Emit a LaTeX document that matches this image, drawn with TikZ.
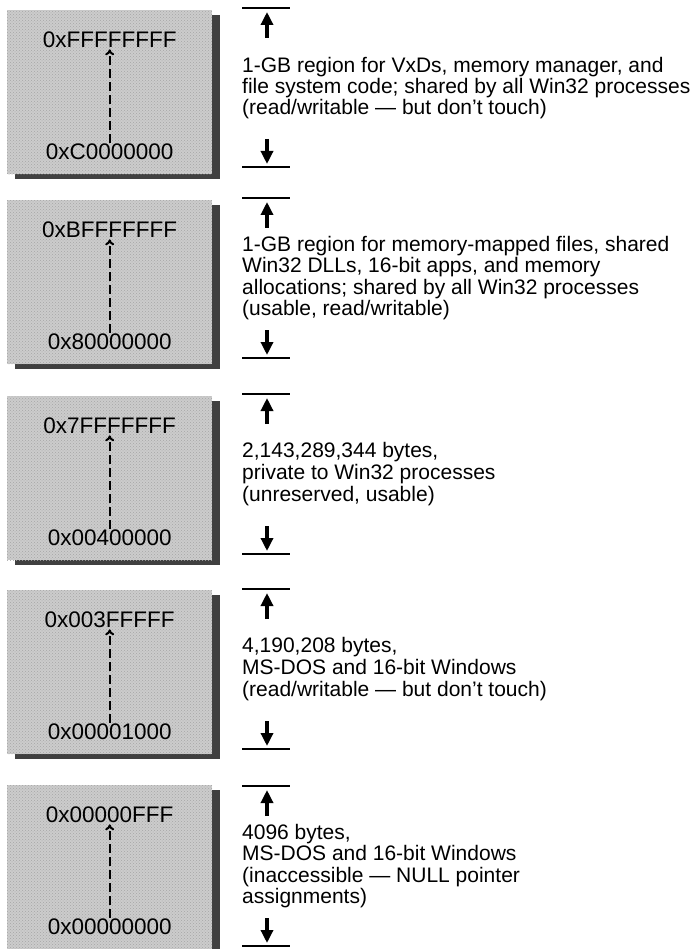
\documentclass[tikz,border=0pt]{standalone}
\usepackage{fontspec}
\setmainfont{Liberation Sans}
\usetikzlibrary{arrows.meta,positioning,shadows,patterns}

\tikzset{
  membox/.style={rectangle, anchor=north west, minimum width=205pt, minimum height=164pt,
    inner sep=0pt, fill=black!20,
    postaction={pattern=crosshatch dots, pattern color=black!35},
    drop shadow={shadow xshift=8pt, shadow yshift=-5pt, fill=black!75, opacity=1}},
  addr/.style={inner sep=1pt, font=\fontsize{22.5}{24}\selectfont},
  span/.style={anchor=west, inner sep=0pt, align=left, font=\fontsize{21}{21.6}\selectfont},
  dasharrow/.style={-{To[length=6pt,width=9pt]}, line width=2pt, dash pattern=on 9pt off 4pt},
  bar/.style={line width=1.5pt},
  bigarrow/.style={-{Triangle[length=13pt,width=12pt]}, line width=3.4pt},
}

\begin{document}
\begin{tikzpicture}[x=1pt,y=-1pt]
 \useasboundingbox (0,0) rectangle (693,949);
 % 0xC0000000 - 0xFFFFFFFF
 \node[membox] (box1) at (7,10) {};
 \node[addr, below=21pt of box1.north] (hi1) {0xFFFFFFFF};
 \node[addr, above=13pt of box1.south] (lo1) {0xC0000000};
 \draw[dasharrow] (lo1) -- (hi1);
 \draw[bar] (242,8) -- (290,8);
 \draw[bigarrow] (267,38) -- (267,12);
 \node[span, font=\fontsize{21}{18.3}\selectfont] (txt1) at (242,88) {1-GB region for VxDs, memory manager, and\\file system code; shared by all Win32 processes\\(read/writable — but don’t touch)};
 \draw[bigarrow] (267,139) -- (267,164);
 \draw[bar] (242,167) -- (290,167);
 % 0x80000000 - 0xBFFFFFFF
 \node[membox] (box2) at (7,200) {};
 \node[addr, below=21pt of box2.north] (hi2) {0xBFFFFFFF};
 \node[addr, above=13pt of box2.south] (lo2) {0x80000000};
 \draw[dasharrow] (lo2) -- (hi2);
 \draw[bar] (242,198) -- (290,198);
 \draw[bigarrow] (267,228) -- (267,202);
 \node[span] (txt2) at (242,278) {1-GB region for memory-mapped files, shared\\Win32 DLLs, 16-bit apps, and memory\\allocations; shared by all Win32 processes\\(usable, read/writable)};
 \draw[bigarrow] (267,330) -- (267,355);
 \draw[bar] (242,358) -- (290,358);
 % 0x00400000 - 0x7FFFFFFF
 \node[membox] (box3) at (7,396) {};
 \node[addr, below=21pt of box3.north] (hi3) {0x7FFFFFFF};
 \node[addr, above=13pt of box3.south] (lo3) {0x00400000};
 \draw[dasharrow] (lo3) -- (hi3);
 \draw[bar] (242,394) -- (290,394);
 \draw[bigarrow] (267,424) -- (267,398);
 \node[span] (txt3) at (242,474) {2,143,289,344 bytes,\\private to Win32 processes\\(unreserved, usable)};
 \draw[bigarrow] (267,526) -- (267,551);
 \draw[bar] (242,554) -- (290,554);
 % 0x00001000 - 0x003FFFFF
 \node[membox] (box4) at (7,590) {};
 \node[addr, below=21pt of box4.north] (hi4) {0x003FFFFF};
 \node[addr, above=13pt of box4.south] (lo4) {0x00001000};
 \draw[dasharrow] (lo4) -- (hi4);
 \draw[bar] (242,589) -- (290,589);
 \draw[bigarrow] (267,619) -- (267,593);
 \node[span] (txt4) at (242,669) {4,190,208 bytes,\\MS-DOS and 16-bit Windows\\(read/writable — but don’t touch)};
 \draw[bigarrow] (267,721) -- (267,746);
 \draw[bar] (242,749) -- (290,749);
 % 0x00000000 - 0x00000FFF
 \node[membox] (box5) at (7,785) {};
 \node[addr, below=21pt of box5.north] (hi5) {0x00000FFF};
 \node[addr, above=13pt of box5.south] (lo5) {0x00000000};
 \draw[dasharrow] (lo5) -- (hi5);
 \draw[bar] (242,786) -- (290,786);
 \draw[bigarrow] (267,816) -- (267,790);
 \node[span] (txt5) at (242,866) {4096 bytes,\\MS-DOS and 16-bit Windows\\(inaccessible — NULL pointer\\assignments)};
 \draw[bigarrow] (267,918) -- (267,943);
 \draw[bar] (242,946) -- (290,946);
\end{tikzpicture}
\end{document}
